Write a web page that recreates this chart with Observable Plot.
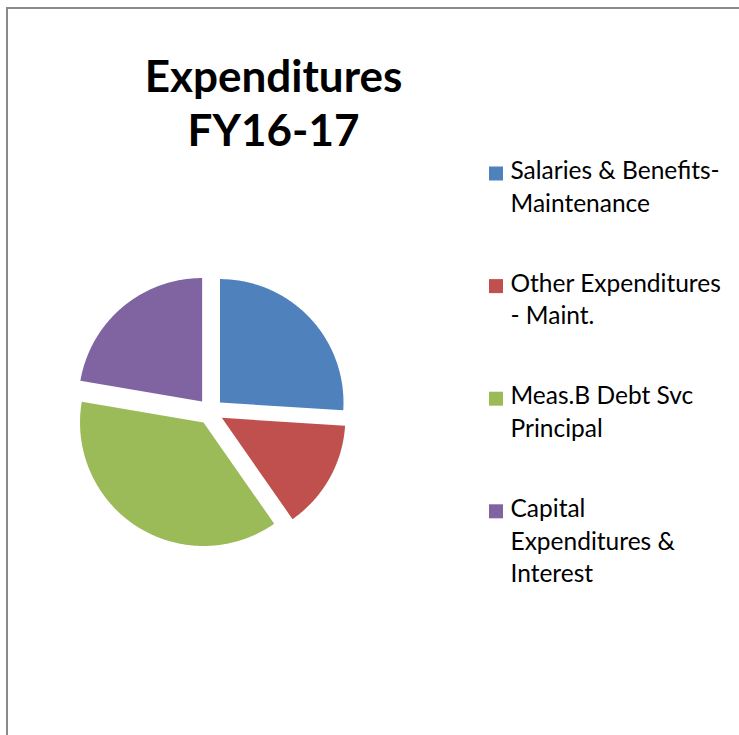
<!DOCTYPE html>
<html>
<head>
<meta charset="utf-8">
<script src="https://cdn.jsdelivr.net/npm/d3@7"></script>
<script src="https://cdn.jsdelivr.net/npm/@observablehq/plot@0.6"></script>
<style>
  html, body { margin: 0; padding: 0; background: #fff; overflow: hidden; }
  #wrap { position: relative; width: 739px; height: 735px; }
  #frame { position: absolute; left: 6px; top: 7px; right: -20px; bottom: -20px;
           border-top: 2px solid #8a8a8a; border-left: 2px solid #8a8a8a; pointer-events: none; }
  #chart { position: absolute; left: 0; top: 0; }
</style>
</head>
<body>
<div id="wrap"><div id="chart"></div><div id="frame"></div></div>
<script>
// ---- data ----
const categories = [
  "Salaries & Benefits-Maintenance",
  "Other Expenditures - Maint.",
  "Meas.B Debt Svc Principal",
  "Capital Expenditures & Interest"
];
const values = [26.0, 14.3, 37.4, 22.3];
const legendLabels = [
  "Salaries & Benefits-\nMaintenance",
  "Other Expenditures\n- Maint.",
  "Meas.B Debt Svc\nPrincipal",
  "Capital\nExpenditures &\nInterest"
];
const colors = ["#4F81BD", "#C0504D", "#9BBB59", "#8064A2"];
const titleText = "Expenditures\nFY16-17";

// ---- layout ----
const W = 739, H = 735;
const cx = 210, cy = 411, R = 123.5, explode = 13;

const rows = categories.map((name, i) => ({name, value: values[i], label: legendLabels[i], i}));
const arcs = d3.pie().sort(null).value(d => d.value)(rows);

const piePts = arcs.flatMap(a => {
  const mid = (a.startAngle + a.endAngle) / 2;
  const ox = cx + explode * Math.sin(mid), oy = cy - explode * Math.cos(mid);
  const n = Math.max(2, Math.ceil((a.endAngle - a.startAngle) / (Math.PI / 360)));
  const pts = [{name: a.data.name, x: ox, y: oy}];
  for (let k = 0; k <= n; k++) {
    const t = a.startAngle + (a.endAngle - a.startAngle) * k / n;
    pts.push({name: a.data.name, x: ox + R * Math.sin(t), y: oy - R * Math.cos(t)});
  }
  return pts;
});

const legX = 495.5, legTop = 173, legStep = 112.6;

const chart = Plot.plot({
  width: W, height: H, margin: 0,
  x: {domain: [0, W], range: [0, W], axis: null},
  y: {domain: [0, H], range: [0, H], axis: null},
  color: {domain: categories, range: colors},
  style: {fontFamily: "Lato, 'Open Sans', sans-serif", background: "white", overflow: "visible"},
  marks: [
    Plot.line(piePts, {x: "x", y: "y", z: "name", fill: "name", stroke: "none", curve: "linear-closed"}),
    Plot.text([titleText], {x: 273, y: 54, text: d => d, fontSize: 44, fontWeight: "bold",
      textAnchor: "middle", lineAnchor: "top", lineHeight: 1.215, fill: "black"}),
    Plot.dot(rows, {x: legX, y: d => legTop + d.i * legStep, fill: "name", symbol: "square", r: 7.9, stroke: "none"}),
    Plot.text(rows, {x: legX + 14.5, y: d => legTop + d.i * legStep - 17.5, text: "label",
      textAnchor: "start", lineAnchor: "top", fontSize: 24.5, lineHeight: 1.33, fill: "black"})
  ]
});
document.getElementById("chart").appendChild(chart);
</script>
</body>
</html>
